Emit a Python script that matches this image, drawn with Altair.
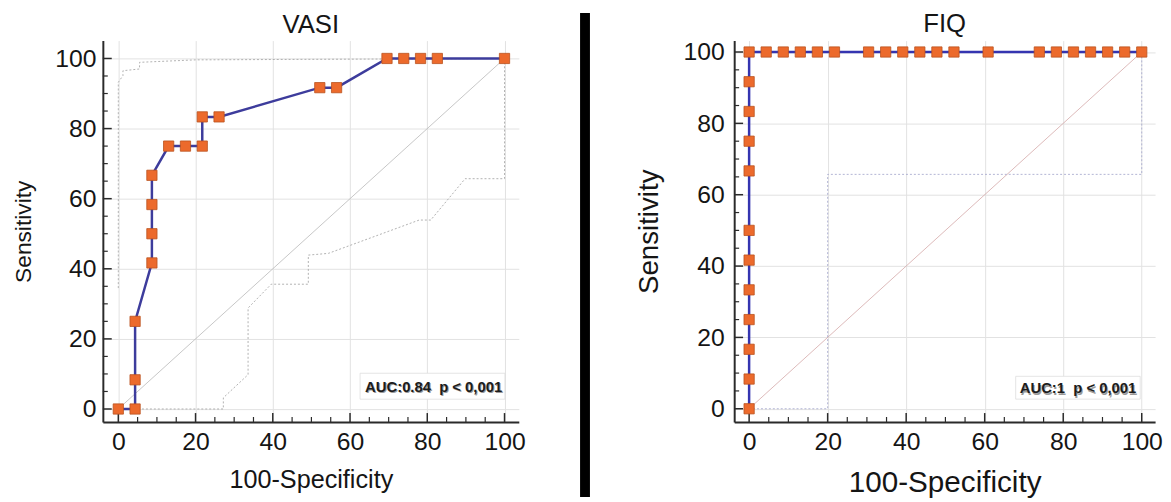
import altair as alt
import pandas as pd

# ---------------- data ----------------
vasi_fpr = [0, 4.35, 4.35, 4.35, 8.70, 8.70, 8.70, 8.70, 13.04, 17.39, 21.74, 21.74,
            26.09, 52.17, 56.52, 69.57, 73.91, 78.26, 82.61, 100]
vasi_sens = [0, 0, 8.33, 25, 41.67, 50, 58.33, 66.67, 75, 75, 75, 83.33,
             83.33, 91.67, 91.67, 100, 100, 100, 100, 100]

vasi_upper_x = [0, 0, 1.2, 1.2, 5.5, 5.5, 20, 100]
vasi_upper_y = [34.5, 93.2, 95.1, 96.5, 97.0, 98.9, 99.6, 100]
vasi_lower_x = [0, 27.2, 27.2, 33.6, 33.6, 39.6, 49.2, 49.2, 54.4, 77.9, 80.9, 89.8, 100, 100]
vasi_lower_y = [0, 0, 3.2, 9.8, 28.8, 35.6, 35.6, 43.9, 44.4, 53.9, 53.9, 65.7, 65.7, 100]

fiq_fpr = [0] * 12 + [4.35, 8.70, 13.04, 17.39, 21.74, 30.43, 34.78, 39.13, 43.48,
                      47.83, 52.17, 60.87, 73.91, 78.26, 82.61, 86.96, 91.30, 95.65, 100]
fiq_sens = [0, 8.33, 16.67, 25, 33.33, 41.67, 50, 66.67, 75, 83.33, 91.67, 100] + [100] * 19

fiq_upper_x = [0, 100]
fiq_upper_y = [100, 100]
fiq_lower_x = [0, 20, 20, 100, 100]
fiq_lower_y = [0, 0, 65.7, 65.7, 100]

diag = [0, 100]
major_ticks = [0, 20, 40, 60, 80, 100]
minor_ticks = [v for v in range(0, 101, 5) if v % 20 != 0]

titles = ["VASI", "FIQ"]
auc_texts = ["AUC:0.84 \u00a0p < 0,001", "AUC:1 \u00a0p < 0,001"]

FONT = "Liberation Sans"


def panel(title, fpr, sens, ux, uy, lx, ly, auc, width, height, xdom, ydom,
          xtitle_size, ytitle_size, line_color, band_color, diag_color, box, text_pos,
          ytitle_pad, ylabel_pad):
    xs = alt.Scale(domain=xdom, nice=False, zero=False)
    ys = alt.Scale(domain=ydom, nice=False, zero=False)
    xaxis = alt.Axis(values=major_ticks, title="100-Specificity", ticks=False, grid=True,
                     gridColor="#e2e2e2", gridWidth=1, domainColor="#2a2a2a", domainWidth=2,
                     labelFont=FONT, labelFontSize=25, labelColor="#151515", labelPadding=8,
                     labelFlush=False, titleFont=FONT, titleFontSize=xtitle_size,
                     titleFontWeight="normal", titleColor="#151515", titlePadding=13)
    yaxis = alt.Axis(values=major_ticks, title="Sensitivity", ticks=False, grid=True,
                     gridColor="#e2e2e2", gridWidth=1, domainColor="#2a2a2a", domainWidth=2,
                     labelFont=FONT, labelFontSize=25, labelColor="#151515",
                     labelPadding=ylabel_pad, labelFlush=False, titleFont=FONT,
                     titleFontSize=ytitle_size, titleFontWeight="normal",
                     titleColor="#151515", titlePadding=ytitle_pad)

    def X(f):
        return alt.X(f, type="quantitative", scale=xs, axis=xaxis)

    def Y(f):
        return alt.Y(f, type="quantitative", scale=ys, axis=yaxis)

    roc = pd.DataFrame({"x": fpr, "y": sens, "i": list(range(len(fpr)))})
    up = pd.DataFrame({"x": ux, "y": uy, "i": list(range(len(ux)))})
    lo = pd.DataFrame({"x": lx, "y": ly, "i": list(range(len(lx)))})
    dg = pd.DataFrame({"x": diag, "y": diag})
    mj = pd.DataFrame({"v": major_ticks})
    mn = pd.DataFrame({"v": minor_ticks})

    diag_layer = alt.Chart(dg).mark_line(color=diag_color, strokeWidth=0.8).encode(
        x=X("x"), y=Y("y"))
    up_layer = alt.Chart(up).mark_line(color=band_color, strokeWidth=0.9,
                                       strokeDash=[2, 2]).encode(
        x=X("x"), y=Y("y"), order="i:Q")
    lo_layer = alt.Chart(lo).mark_line(color=band_color, strokeWidth=0.9,
                                       strokeDash=[2, 2]).encode(
        x=X("x"), y=Y("y"), order="i:Q")

    xt_major = alt.Chart(mj).mark_rule(color="#2a2a2a", strokeWidth=1.5).encode(
        x=X("v"), y=alt.value(height), y2=alt.value(height - 9))
    xt_minor = alt.Chart(mn).mark_rule(color="#2a2a2a", strokeWidth=1.2).encode(
        x=X("v"), y=alt.value(height), y2=alt.value(height - 5))
    yt_major = alt.Chart(mj).mark_rule(color="#2a2a2a", strokeWidth=1.5).encode(
        y=Y("v"), x=alt.value(0), x2=alt.value(9))
    yt_minor = alt.Chart(mn).mark_rule(color="#2a2a2a", strokeWidth=1.2).encode(
        y=Y("v"), x=alt.value(0), x2=alt.value(5))

    line_layer = alt.Chart(roc).mark_line(color=line_color, strokeWidth=2.5).encode(
        x=X("x"), y=Y("y"), order="i:Q")
    pts_layer = alt.Chart(roc).mark_point(shape="square", filled=True, fill="#ec6a2c",
                                          stroke="#b9521f", strokeWidth=0.8, size=108,
                                          opacity=1).encode(x=X("x"), y=Y("y"))

    box_df = pd.DataFrame({"x": [box[0]], "x2": [box[1]], "y": [box[2]], "y2": [box[3]]})
    box_layer = alt.Chart(box_df).mark_rect(fill="white", stroke="#dddddd",
                                            strokeWidth=0.8).encode(
        x=X("x"), x2="x2", y=Y("y"), y2="y2")
    txt_df = pd.DataFrame({"x": [text_pos[0]], "y": [text_pos[1]], "t": [auc]})
    shadow = alt.Chart(txt_df).mark_text(align="right", baseline="middle", font=FONT,
                                         fontWeight="bold", fontSize=15, color="#9a9a9a",
                                         dx=1, dy=2).encode(x=X("x"), y=Y("y"), text="t:N")
    txt = alt.Chart(txt_df).mark_text(align="right", baseline="middle", font=FONT,
                                      fontWeight="bold", fontSize=15,
                                      color="#1c1c1c").encode(x=X("x"), y=Y("y"), text="t:N")

    return alt.layer(diag_layer, up_layer, lo_layer, xt_minor, xt_major, yt_minor, yt_major,
                     box_layer, shadow, txt, line_layer, pts_layer).properties(
        width=width, height=height,
        title=alt.Title(title, font=FONT, fontSize=26, fontWeight="normal",
                        color="#151515", offset=3))


H = 386
left = panel(titles[0], vasi_fpr, vasi_sens, vasi_upper_x, vasi_upper_y, vasi_lower_x,
             vasi_lower_y, auc_texts[0], 421, H, [-4.0, 103.7], [-3.7, 105.1], 25.5, 23,
             "#3d3c9c", "#a8a8a8", "#b8b8b8", [62.6, 100.1, 2.8, 10.2], [99.4, 6.4], 20, 7)
right = panel(titles[1], fiq_fpr, fiq_sens, fiq_upper_x, fiq_upper_y, fiq_lower_x,
              fiq_lower_y, auc_texts[1], 426, H, [-3.8, 103.4], [-3.7, 103.2], 30, 28,
              "#3434b0", "#a9acd0", "#d4a7a7", [67.9, 99.6, 2.7, 9.1], [98.6, 5.8], 20, 10)

divider = alt.Chart(pd.DataFrame({"a": [0]})).mark_rect(color="black").encode(
    x=alt.value(55), x2=alt.value(65), y=alt.value(-28), y2=alt.value(462)
).properties(width=111, height=H)

chart = alt.hconcat(left, divider, right, spacing=0).properties(
    padding={"left": 4, "top": 0, "right": 0, "bottom": 0}, background="white"
).configure_view(strokeWidth=0)

chart.save("out.html", embed_options={"renderer": "svg", "actions": False})
